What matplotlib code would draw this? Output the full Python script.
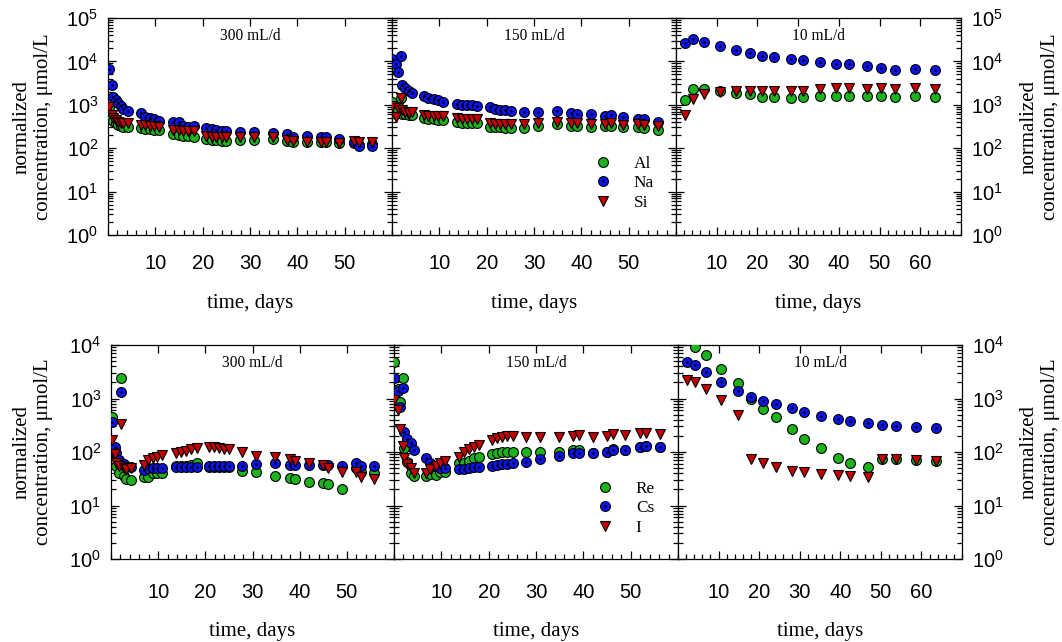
import numpy as np
import matplotlib
matplotlib.use("Agg")
import matplotlib.pyplot as plt
from matplotlib.lines import Line2D
from matplotlib.ticker import LogLocator, MultipleLocator, NullFormatter, FixedLocator

plt.rcParams['font.family'] = ['Liberation Sans', 'DejaVu Sans']
plt.rcParams['mathtext.fontset'] = 'custom'
plt.rcParams['mathtext.rm'] = 'Liberation Sans'
plt.rcParams['mathtext.it'] = 'Liberation Sans:italic'
plt.rcParams['mathtext.bf'] = 'Liberation Sans:bold'

SERIF = ['Liberation Serif', 'DejaVu Serif']

# ---------------- data ----------------
rates = ['300 mL/d', '150 mL/d', '10 mL/d']

t300 = [0.2, 0.9, 1.1, 1.6, 2.1, 2.7, 3.2, 4.2, 6.9, 7.9, 8.8, 9.8, 10.8, 13.7, 14.9,
        15.9, 17.0, 18.2, 20.8, 21.9, 22.9, 24.0, 25.0, 27.8, 30.8, 34.8, 37.9, 39.0,
        42.0, 45.0, 46.1, 48.9, 51.9, 53.0, 55.8]
t150 = [0.1, 0.8, 1.2, 1.8, 2.1, 2.8, 3.5, 4.2, 6.8, 7.7, 8.8, 9.8, 10.8, 13.7, 14.7,
        15.8, 16.8, 17.9, 20.7, 21.8, 22.8, 23.8, 25.1, 27.9, 30.8, 34.9, 37.9, 39.0,
        42.1, 45.0, 46.3, 48.9, 51.9, 53.3, 56.1]
t10 = [2.2, 4.1, 6.9, 10.7, 14.8, 18.1, 21.0, 24.1, 28.2, 31.1, 35.3, 39.4, 42.5,
       46.9, 50.4, 53.8, 58.6, 63.6]

# major elements
al300 = [850, 500, 420, 380, 350, 320, 310, 300, 290, 280, 270, 265, 260, 210, 200,
         195, 190, 185, 160, 155, 155, 150, 150, 155, 155, 160, 145, 141, 141, 141,
         141, 130, 130, 120, 125]
na300 = [6600, 2870, 1540, 1290, 1080, 935, 800, 720, 635, 535, 490, 470, 430, 395,
         410, 325, 300, 325, 296, 272, 263, 250, 250, 240, 240, 220, 208, 184, 194,
         184, 178, 160, 141, 112, 112]
si300 = [910, 580, 490, 445, 410, 375, 375, 375, 340, 335, 330, 320, 315, 265, 260,
         255, 250, 250, 190, 185, 182, 180, 180, 184, 184, 184, 155, 150, 141, 141,
         141, 130, 150, 141, 141]

al150 = [1140, 800, 760, 1400, 630, 600, 580, 580, 500, 465, 460, 455, 450, 395, 390,
         385, 380, 375, 310, 300, 300, 295, 290, 290, 325, 355, 325, 320, 300, 320,
         325, 315, 300, 290, 263]
na150 = [11400, 8600, 5600, 13500, 2860, 2400, 2100, 1900, 1620, 1450, 1360, 1290,
         1140, 1040, 990, 990, 990, 950, 870, 815, 770, 745, 720, 670, 670, 720, 660,
         600, 600, 550, 580, 530, 470, 470, 410]
si150 = [950, 515, 860, 1400, 740, 700, 660, 670, 580, 560, 560, 560, 560, 490, 480,
         480, 470, 470, 375, 370, 370, 365, 360, 360, 375, 410, 375, 375, 360, 370,
         375, 340, 360, 350, 325]

al10 = [1290, 2280, 2280, 2100, 1840, 1740, 1540, 1540, 1410, 1490, 1600, 1620, 1620,
        1620, 1620, 1540, 1600, 1490]
na10 = [26100, 32800, 28400, 22900, 18200, 15400, 13300, 12800, 11100, 10800, 9500,
        8700, 8700, 8000, 6900, 6300, 6700, 6300]
si10 = [580, 1340, 1770, 2000, 2100, 2080, 2080, 2080, 2080, 2100, 2280, 2400, 2400,
        2350, 2400, 2280, 2400, 2280]

# trace elements
re300 = [460, 100, 55, 40, 2400, 35, 31, 30, 34.5, 34.5, 41, 41, 41, 55, 55, 55, 57,
         62, 53, 53, 53, 53, 53, 45, 43, 36, 33, 31, 28, 26, 25, 20, 50, 43, 40]
cs300 = [370, 126, 97, 71, 1340, 60, 53, 52, 46, 50, 50, 50, 50, 53, 53, 53, 53, 53,
         55, 55, 55, 55, 55, 55, 59, 61.5, 58, 56, 58, 57, 57, 55, 61, 55, 54]
i300 = [165, 90, 62, 55, 330, 50, 48, 50, 57, 71, 76, 81, 88, 94, 98, 104, 112, 120,
        126, 124, 117, 112, 112, 101, 85, 79, 73, 69, 61.5, 57, 50, 43, 42, 34.5, 31]

re150 = [4750, 1500, 870, 2380, 117, 64, 40, 36, 36, 39, 37, 43, 43, 61, 63, 69, 78,
         81, 92, 97, 100, 102, 102, 99, 99, 99, 109, 109, 97, 101, 114, 109, 125, 130,
         125]
cs150 = [2380, 1400, 680, 1550, 234, 173, 145, 109, 76, 61, 55, 51, 50, 47.5, 48, 50,
         52, 53, 55, 57, 59, 59, 61.5, 66, 73, 84, 94, 94, 94, 101, 109, 109, 125, 130,
         125]
i150 = [935, 610, 265, 130, 76, 60, 50, 41, 40, 47.5, 55, 61, 69, 81, 101, 112, 126,
        135, 167, 180, 188, 200, 200, 194, 194, 194, 200, 205, 194, 200, 215, 208, 230,
        230, 220]

re10 = [np.nan, 9300, 6500, 3560, 1920, 980, 635, 445, 265, 175, 117, 78, 63, 53, 73,
        75, 72, 68]
cs10 = [4750, 4230, 3090, 2000, 1400, 1050, 910, 780, 655, 565, 470, 410, 380, 345,
        320, 310, 295, 280]
i10 = [2220, 2000, 1500, 935, 490, 73, 62, 53, 45, 42, 39, 37, 36, 34.5, 73, 75, 70, 68]

times = [t300, t150, t10]
major = {'Al': [al300, al150, al10], 'Na': [na300, na150, na10], 'Si': [si300, si150, si10]}
trace = {'Re': [re300, re150, re10], 'Cs': [cs300, cs150, cs10], 'I': [i300, i150, i10]}

# ---------------- style ----------------
GREEN = '#1db31d'
BLUE = '#0a14f0'
RED = '#c40000'
MS = 7.1
MEW = 0.8

W, H = 1062, 642
fig = plt.figure(figsize=(W / 100, H / 100), dpi=100)

rows = [
    dict(edges=[108, 392, 676, 961], top=18, bottom=235, ymax=1e5, xpad=14,
         xlabel_y=-0.27, groups=major, names=['Al', 'Na', 'Si']),
    dict(edges=[111, 394, 678, 962], top=345, bottom=559, ymax=1e4, xpad=17,
         xlabel_y=-0.295, groups=trace, names=['Re', 'Cs', 'I']),
]


def scatter_set(ax, t, a, b, c):
    ax.plot(t, a, ls='none', marker='o', ms=MS, mfc=GREEN, mec='black', mew=MEW, zorder=3)
    ax.plot(t, b, ls='none', marker='o', ms=MS, mfc=BLUE, mec='black', mew=MEW, zorder=4)
    ax.plot(t, b, ls='none', marker='o', ms=1.6, mfc='black', mec='black', mew=0.3, zorder=4)
    ax.plot(t, c, ls='none', marker='v', ms=MS, mfc=RED, mec='black', mew=MEW, zorder=5)


for row in rows:
    e = row['edges']
    for k in range(3):
        x0, x1 = e[k], e[k + 1]
        ax = fig.add_axes([x0 / W, 1 - row['bottom'] / H, (x1 - x0) / W,
                           (row['bottom'] - row['top']) / H])
        n1, n2, n3 = row['names']
        scatter_set(ax, times[k], row['groups'][n1][k], row['groups'][n2][k],
                    row['groups'][n3][k])
        ax.set_yscale('log')
        ax.set_ylim(1, row['ymax'])
        xmax = 70 if k == 2 else 60
        ax.set_xlim(0, xmax)
        ax.xaxis.set_major_locator(FixedLocator(list(range(10, xmax, 10))))
        ax.xaxis.set_minor_locator(MultipleLocator(2))
        ax.yaxis.set_major_locator(LogLocator(base=10, numticks=10))
        ax.yaxis.set_minor_locator(LogLocator(base=10, subs=np.arange(2, 10), numticks=10))
        ax.yaxis.set_minor_formatter(NullFormatter())
        ax.tick_params(which='both', direction='in', top=True, right=True,
                       width=0.9, labelsize=14.5)
        ax.tick_params(which='major', length=6)
        ax.tick_params(which='minor', length=3.5)
        ax.tick_params(axis='x', which='minor', top=False)
        ax.tick_params(axis='x', pad=row['xpad'])
        ax.tick_params(axis='y', pad=7)
        ax.tick_params(axis='y', labelleft=(k == 0), labelright=(k == 2))
        for s in ax.spines.values():
            s.set_linewidth(0.9)
        ax.set_xlabel('time, days', family=SERIF, fontsize=15)
        ax.xaxis.set_label_coords(0.5, row['xlabel_y'])
        ax.text(0.5, 0.915, rates[k], transform=ax.transAxes, ha='center', va='center',
                family=SERIF, fontsize=11.2)
        if k == 1:
            h1 = Line2D([], [], ls='none', marker='o', ms=MS, mfc=GREEN, mec='black', mew=MEW)
            h2 = Line2D([], [], ls='none', marker='o', ms=MS, mfc=BLUE, mec='black', mew=MEW)
            h2d = Line2D([], [], ls='none', marker='o', ms=1.6, mfc='black', mec='black', mew=0.3)
            h3 = Line2D([], [], ls='none', marker='v', ms=MS, mfc=RED, mec='black', mew=MEW)
            ax.legend([h1, (h2, h2d), h3], row['names'], loc='upper left',
                      bbox_to_anchor=(0.712, 0.365), frameon=False, borderpad=0,
                      borderaxespad=0, handlelength=1.0, handletextpad=1.3,
                      labelspacing=0.2, prop={'family': SERIF, 'size': 12.4})
    ymid = 1 - (row['top'] + row['bottom']) / 2 / H
    label = 'normalized\nconcentration, \u03bcmol/L'
    fig.text(33 / W, ymid, label, rotation=90, ha='center', va='center',
             multialignment='center', family=SERIF, fontsize=15)
    fig.text(1040 / W, ymid, label, rotation=90, ha='center', va='center',
             multialignment='center', family=SERIF, fontsize=15)

fig.savefig('out.png', dpi=100)
